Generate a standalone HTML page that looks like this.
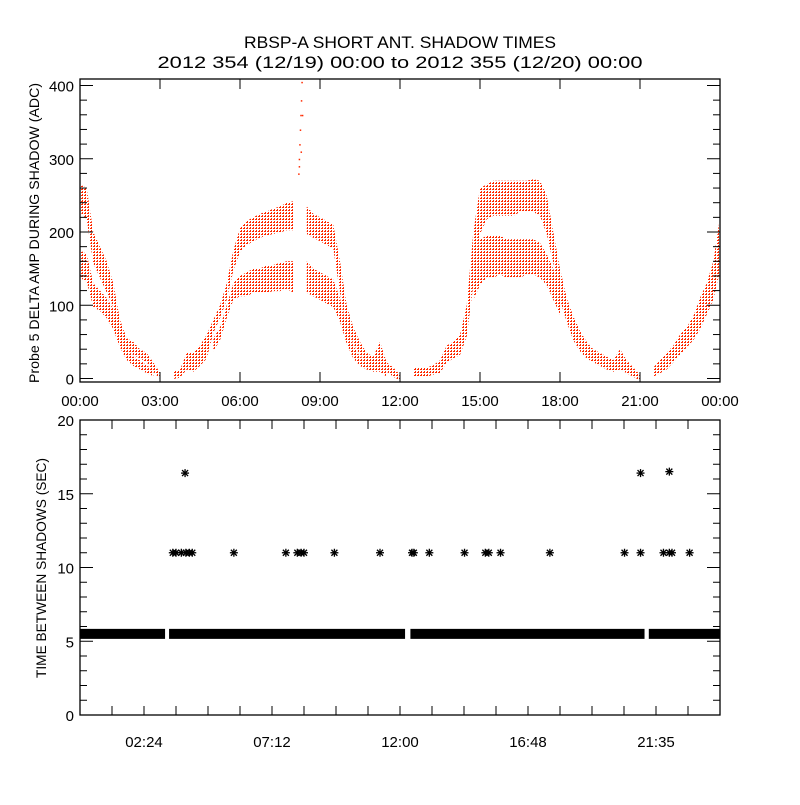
<!DOCTYPE html>
<html><head><meta charset="utf-8"><style>
html,body{margin:0;padding:0;background:#fff;}
svg text{font-family:"Liberation Sans",sans-serif;fill:#000;}
</style></head><body>
<svg id="chart" width="800" height="800" viewBox="0 0 800 800" xmlns="http://www.w3.org/2000/svg">
<defs>
<pattern id="dots" width="3" height="3" patternUnits="userSpaceOnUse">
<rect x="0" y="0" width="2" height="1" fill="#ff2a00"/><rect x="1" y="2" width="1" height="1" fill="#ff2a00"/>
</pattern>
</defs>
<text x="400" y="48" font-size="17" text-anchor="middle" textLength="312" lengthAdjust="spacingAndGlyphs">RBSP-A SHORT ANT. SHADOW TIMES</text>
<text x="400" y="68" font-size="17" text-anchor="middle" textLength="485" lengthAdjust="spacingAndGlyphs">2012 354 (12/19) 00:00 to 2012 355 (12/20) 00:00</text>
<g id="topPanel"></g>
<g id="botPanel"></g>
<text transform="translate(39,233) rotate(-90)" font-size="14" text-anchor="middle" textLength="300" lengthAdjust="spacingAndGlyphs">Probe 5 DELTA AMP DURING SHADOW (ADC)</text>
<text transform="translate(46,568) rotate(-90)" font-size="14" text-anchor="middle" textLength="220" lengthAdjust="spacingAndGlyphs">TIME BETWEEN SHADOWS (SEC)</text>
</svg>
<script>
// ---- top panel data (hours, band envelopes in ADC) ----
const hours = [0,0.25,0.5,0.75,1,1.25,1.5,1.75,2,2.25,2.5,2.75,3,3.25,3.5,3.75,4,4.25,4.5,4.75,5,5.25,5.5,5.75,6,6.25,6.5,6.75,7,7.25,7.5,7.75,8,8.25,8.5,8.75,9,9.25,9.5,9.75,10,10.25,10.5,10.75,11,11.25,11.5,11.75,12,12.25,12.5,12.75,13,13.25,13.5,13.75,14,14.25,14.5,14.75,15,15.25,15.5,15.75,16,16.25,16.5,16.75,17,17.25,17.5,17.75,18,18.25,18.5,18.75,19,19.25,19.5,19.75,20,20.25,20.5,20.75,21,21.25,21.5,21.75,22,22.25,22.5,22.75,23,23.25,23.5,23.75,24];
const upperTop = [265,260,200,180,160,130,80,55,50,40,35,22,8,null,10,12,35,35,45,60,80,100,130,175,205,215,220,225,228,232,235,240,242,null,235,225,220,215,210,160,100,70,50,35,30,50,22,15,5,null,15,15,15,18,25,45,50,60,100,200,260,265,270,270,270,270,270,270,272,270,250,200,150,110,85,65,50,40,35,30,25,40,25,15,5,null,15,25,35,45,60,70,85,110,130,160,220];
const upperBot = [230,220,160,140,120,100,60,40,35,30,25,12,2,null,2,4,15,12,20,30,65,85,110,150,175,185,190,195,198,200,202,205,205,null,200,195,190,185,180,120,70,50,35,25,20,25,12,5,0,null,5,5,5,8,10,25,30,35,60,130,200,220,225,225,225,225,230,230,230,225,200,160,110,80,55,40,30,25,20,15,12,15,10,5,0,null,5,10,15,25,35,45,55,70,90,110,150];
const lowerTop = [175,170,130,120,110,95,65,40,30,25,18,12,null,null,null,null,null,null,null,null,55,70,100,130,140,145,150,150,155,155,158,160,160,null,160,150,145,140,135,110,70,45,30,25,20,25,12,null,null,null,null,null,null,null,null,null,null,null,null,160,190,195,195,195,190,190,190,190,190,185,170,150,120];
const lowerBot = [140,135,100,95,85,70,45,28,20,15,10,6,null,null,null,null,null,null,null,null,40,55,85,110,115,115,120,120,120,122,122,125,120,null,120,115,110,105,100,80,50,30,20,15,12,12,5,null,null,null,null,null,null,null,null,null,null,null,null,110,130,140,140,145,140,140,140,145,145,140,130,110,90];
const spikeTimes = [8.18,8.2,8.22,8.24,8.26,8.28,8.3,8.32,8.2,8.27];
const spikeValues = [280,300,320,340,360,380,405,360,290,310];
const topYTicks = [0,100,200,300,400];
const topXTickLabels = ["00:00","03:00","06:00","09:00","12:00","15:00","18:00","21:00","00:00"];

// ---- bottom panel data ----
const barStart = [0,3.34,12.39,21.33];
const barEnd = [3.19,12.19,21.17,24];
const barValue = 5.5;
const gapTimes = [3.48,3.6,3.8,3.97,4.1,4.21,5.77,7.72,8.15,8.29,8.4,9.54,11.25,12.45,12.52,13.1,14.42,15.2,15.33,15.77,17.62,20.42,21.02,21.88,22.1,22.2,22.86];
const gapValues = [11,11,11,11,11,11,11,11,11,11,11,11,11,11,11,11,11,11,11,11,11,11,11,11,11,11,11];
const longTimes = [3.94,21.02,22.1];
const longValues = [16.4,16.4,16.5];
const botYTicks = [0,5,10,15,20];
const botXTickHours = [2.4,7.2,12,16.8,21.6];
const botXTickLabels = ["02:24","07:12","12:00","16:48","21:35"];

const NS="http://www.w3.org/2000/svg";
function mk(parent,tag,attrs){const e=document.createElementNS(NS,tag);for(const k in attrs)e.setAttribute(k,attrs[k]);parent.appendChild(e);return e;}
const X0=80,X1=720;
const xs=h=>X0+h/24*(X1-X0);
const ty=v=>378.5-v*0.7325;
const by=v=>715-v*14.75;

// top panel
const topG=document.getElementById('topPanel');
function bandPolys(tops,bots,name){
  let run=[];
  const flush=()=>{
    if(run.length===0)return;
    let pts;
    if(run.length===1){
      const i=run[0];
      pts=[[xs(hours[i])-3,ty(tops[i])],[xs(hours[i])+3,ty(tops[i])],[xs(hours[i])+3,ty(bots[i])],[xs(hours[i])-3,ty(bots[i])]];
    } else {
      pts=run.map(i=>[xs(hours[i]),ty(tops[i])]).concat(run.slice().reverse().map(i=>[xs(hours[i]),ty(bots[i])+2]));
    }
    const p=mk(topG,'polygon',{points:pts.map(q=>q[0].toFixed(1)+','+q[1].toFixed(1)).join(' '),fill:'url(#dots)'});
    
    
    run=[];
  };
  for(let i=0;i<hours.length;i++){
    if(tops[i]!=null && bots[i]!=null) run.push(i); else flush();
  }
  flush();
}
bandPolys(upperTop,upperBot,'upper-band');
bandPolys(lowerTop,lowerBot,'lower-band');
spikeTimes.forEach((h,i)=>{
  const r=mk(topG,'rect',{x:xs(h),y:ty(spikeValues[i]),width:1.5,height:1.5,fill:'#ff2a00'});
  
  
});
const tf=mk(topG,'rect',{x:X0,y:79,width:X1-X0,height:303,fill:'none',stroke:'#000','stroke-width':1.3});


for(let v=0;v<=400;v+=20){
  const L=(v%100===0)?13:7;
  mk(topG,'line',{x1:X0,x2:X0+L,y1:ty(v),y2:ty(v),stroke:'#000'});
  mk(topG,'line',{x1:X1,x2:X1-L,y1:ty(v),y2:ty(v),stroke:'#000'});
}
topYTicks.forEach(v=>{
  const t=mk(topG,'text',{x:X0-6,y:ty(v)+6,'font-size':15,'text-anchor':'end'});
  
  
  t.textContent=v;
});
topXTickLabels.forEach((s,i)=>{
  const x=xs(i*3);
  mk(topG,'line',{x1:x,x2:x,y1:382,y2:372,stroke:'#000'});
  mk(topG,'line',{x1:x,x2:x,y1:79,y2:89,stroke:'#000'});
  const t=mk(topG,'text',{x:x,y:406,'font-size':15,'text-anchor':'middle'});
  
  
  t.textContent=s;
});

// bottom panel
const botG=document.getElementById('botPanel');
const bf=mk(botG,'rect',{x:X0,y:420,width:X1-X0,height:295,fill:'none',stroke:'#000','stroke-width':1.3});


for(let v=0;v<=20;v++){
  const L=(v%5===0)?13:7;
  mk(botG,'line',{x1:X0,x2:X0+L,y1:by(v),y2:by(v),stroke:'#000'});
  mk(botG,'line',{x1:X1,x2:X1-L,y1:by(v),y2:by(v),stroke:'#000'});
}
botYTicks.forEach(v=>{
  const t=mk(botG,'text',{x:X0-6,y:by(v)+6,'font-size':15,'text-anchor':'end'});
  
  
  t.textContent=v;
});
for(let h=1.2;h<24;h+=1.2){
  const x=xs(h);
  mk(botG,'line',{x1:x,x2:x,y1:715,y2:706,stroke:'#000'});
  mk(botG,'line',{x1:x,x2:x,y1:420,y2:429,stroke:'#000'});
}
botXTickHours.forEach((h,i)=>{
  const t=mk(botG,'text',{x:xs(h),y:747,'font-size':15,'text-anchor':'middle'});
  
  
  t.textContent=botXTickLabels[i];
});
barStart.forEach((s,i)=>{
  const r=mk(botG,'rect',{x:xs(s),y:by(barValue)-5,width:xs(barEnd[i])-xs(s),height:10,fill:'#000'});
  
  
});
function star(h,v){
  const g=mk(botG,'g',{stroke:'#000','stroke-width':1.3});
  
  
  const x=xs(h),y=by(v),r=4;
  mk(g,'line',{x1:x-r,x2:x+r,y1:y,y2:y});
  mk(g,'line',{x1:x,x2:x,y1:y-r,y2:y+r});
  mk(g,'line',{x1:x-3,x2:x+3,y1:y-3,y2:y+3});
  mk(g,'line',{x1:x-3,x2:x+3,y1:y+3,y2:y-3});
}
gapTimes.forEach((h,i)=>star(h,gapValues[i]));
longTimes.forEach((h,i)=>star(h,longValues[i]));
</script>
</body></html>
